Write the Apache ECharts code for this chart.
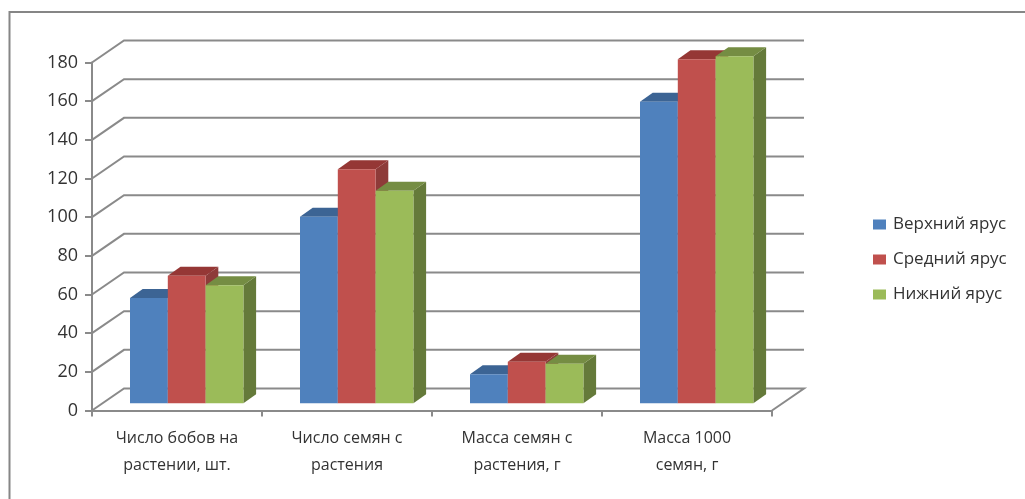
<!DOCTYPE html>
<html>
<head>
<meta charset="utf-8">
<style>html,body{margin:0;padding:0;background:#fff}#chart{width:1025px;height:499px}</style>
<script src="https://cdn.jsdelivr.net/npm/echarts@6/dist/echarts.min.js"></script>
</head>
<body>
<div id="chart"></div>
<script>
const categories = ['Число бобов на\nрастении, шт.', 'Число семян с\nрастения', 'Масса семян с\nрастения, г', 'Масса 1000\nсемян, г'];
const upperTier = [54.5, 96.5, 15, 156];
const middleTier = [66, 121, 21.5, 178];
const lowerTier = [61, 110, 20.5, 179.5];
const gridValues = [0, 20, 40, 60, 80, 100, 120, 140, 160, 180];

const AXIS_GREY = '#8a8a8a';
const FONT = '"Open Sans", sans-serif';
// Oblique projection of the chart box: the back wall and the bar bodies.
const WALL = {dx: 32, dy: -22};
const BAR_INSET = {dx: 10.5, dy: -7.2};
const BAR_DEPTH = {dx: 12.7, dy: -9};
const GROUP_START = 38;   // from the category's left edge to the first bar
const BAR_WIDTH = 37.8;

const shaded = (name, front, top, side, index, values) => ({
  name, type: 'custom', coordinateSystem: 'cartesian2d',
  itemStyle: {color: front},
  encode: {x: 0, y: 1},
  data: values.map((v, i) => [i, v]),
  z: 3 + index,
  renderItem(params, api) {
    const band = api.size([1, 0])[0];
    const p = api.coord([api.value(0), api.value(1)]);
    const base = api.coord([api.value(0), 0]);
    const x0 = p[0] - band / 2 + GROUP_START + BAR_WIDTH * index + BAR_INSET.dx - 10.5;
    const x1 = x0 + BAR_WIDTH;
    const yt = p[1] + BAR_INSET.dy;
    const yb = base[1] + BAR_INSET.dy;
    const d = BAR_DEPTH;
    return {type: 'group', children: [
      {type: 'polygon', shape: {points: [[x1, yt], [x1 + d.dx, yt + d.dy], [x1 + d.dx, yb + d.dy], [x1, yb]]}, style: {fill: side}},
      {type: 'polygon', shape: {points: [[x0, yt], [x0 + d.dx, yt + d.dy], [x1 + d.dx, yt + d.dy], [x1, yt]]}, style: {fill: top}},
      {type: 'rect', shape: {x: x0, y: yt, width: BAR_WIDTH, height: yb - yt}, style: {fill: front}}
    ]};
  }
});

const chart = echarts.init(document.getElementById('chart'), null, {renderer: 'canvas'});
chart.setOption({
  animation: false,
  backgroundColor: '#ffffff',
  textStyle: {fontFamily: FONT},
  graphic: [{type: 'rect', z: -1, shape: {x: 9.5, y: 12, width: 1100, height: 600}, style: {fill: '#fff', stroke: '#868686', lineWidth: 2}}],
  grid: {left: 92, right: 253, top: 62.5, bottom: 88.5},
  legend: {
    orient: 'vertical', left: 868, top: 211, itemWidth: 13, itemHeight: 10, itemGap: 18,
    icon: 'rect', textStyle: {fontFamily: FONT, fontSize: 17, color: '#333', padding: [0, 0, 0, 2]}
  },
  xAxis: {
    type: 'category', data: categories, boundaryGap: true,
    axisLine: {lineStyle: {color: AXIS_GREY, width: 2}},
    axisTick: {show: true, length: 6, lineStyle: {color: AXIS_GREY, width: 2}},
    axisLabel: {fontFamily: FONT, fontSize: 16, color: '#333', lineHeight: 27, margin: 14, interval: 0}
  },
  yAxis: {
    type: 'value', min: 0, max: 180, interval: 20,
    splitLine: {show: false},
    axisLine: {show: true, lineStyle: {color: AXIS_GREY, width: 2}},
    axisTick: {show: true, length: 7, lineStyle: {color: AXIS_GREY, width: 2}},
    axisLabel: {fontFamily: FONT, fontSize: 18, color: '#333', margin: 14}
  },
  series: [
    {
      // Gridlines on the side and back walls, one per axis tick.
      type: 'custom', silent: true, z: 1, coordinateSystem: 'cartesian2d',
      data: gridValues.map(v => [0, v]), encode: {x: 0, y: 1},
      renderItem(params, api) {
        const band = api.size([1, 0])[0];
        const p = api.coord([0, api.value(1)]);
        const xl = p[0] - band / 2;
        const xr = xl + band * categories.length;
        const pts = [[xl, p[1]], [xl + WALL.dx, p[1] + WALL.dy], [xr + WALL.dx, p[1] + WALL.dy]];
        if (api.value(1) === 0) pts.push([xr, p[1]]);
        return {type: 'polyline', shape: {points: pts}, style: {fill: 'none', stroke: AXIS_GREY, lineWidth: 2}};
      }
    },
    shaded('Верхний ярус', '#4f81bd', '#3c6494', '#3a5f8b', 0, upperTier),
    shaded('Средний ярус', '#c0504d', '#953735', '#8e3b39', 1, middleTier),
    shaded('Нижний ярус', '#9bbb59', '#758d43', '#657a3a', 2, lowerTier)
  ]
});
</script>
</body>
</html>
